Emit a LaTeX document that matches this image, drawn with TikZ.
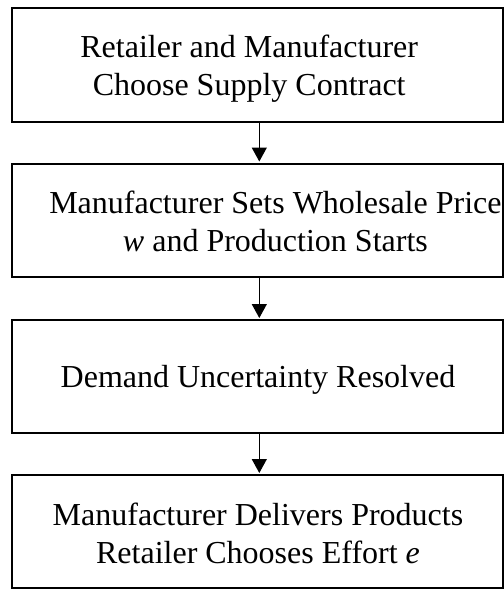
\documentclass[tikz,border=0pt]{standalone}
\usepackage{fontspec}
\setmainfont{Liberation Serif}
\usetikzlibrary{arrows.meta}
\begin{document}
\begin{tikzpicture}[x=1pt,y=-1pt,
  stage/.style={draw=black, line width=2pt, minimum width=491pt, inner sep=0pt},
  caption/.style={align=center, font=\fontsize{32}{38}\selectfont, inner sep=0pt},
  flow/.style={-{Triangle[length=14pt,width=15pt]}, line width=1.3pt, shorten >=1pt}]
\useasboundingbox (0,0) rectangle (504,590);
% the four stages of the sequence
\node[stage, minimum height=114pt]   (b1) at (257.5,64.5)  {};
\node[stage, minimum height=113.5pt] (b2) at (257.5,220.25) {};
\node[stage, minimum height=113pt]   (b3) at (257.5,376.5) {};
\node[stage, minimum height=113pt]   (b4) at (257.5,531.5) {};
% stage texts
\node[caption] (t1) at (249.2,69) {Retailer and Manufacturer\\Choose Supply Contract};
\node[caption] (t2) at (275.4,221) {Manufacturer Sets Wholesale Price\\\textit{w} and Production Starts};
\node[caption] (t3) at (258,379.5) {Demand Uncertainty Resolved};
\node[caption] (t4) at (258,533) {Manufacturer Delivers Products\\Retailer Chooses Effort \textit{e}};
% connectors
\draw[flow] ([xshift=1.8pt]b1.south) -- ([xshift=1.8pt]b2.north);
\draw[flow] ([xshift=1.8pt]b2.south) -- ([xshift=1.8pt]b3.north);
\draw[flow] ([xshift=1.8pt]b3.south) -- ([xshift=1.8pt]b4.north);
\end{tikzpicture}
\end{document}
